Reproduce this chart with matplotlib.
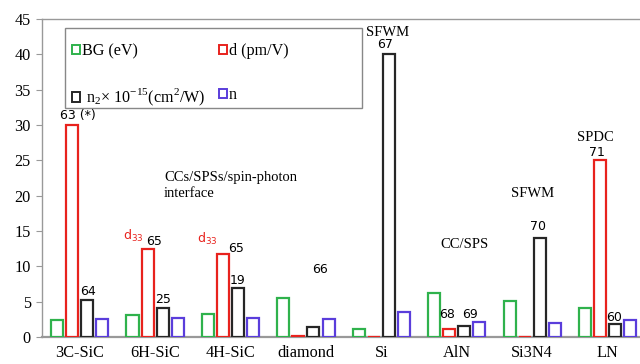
import numpy as np
import matplotlib
matplotlib.use("Agg")
import matplotlib.pyplot as plt
from matplotlib.patches import Patch, Rectangle

plt.rcParams['mathtext.fontset'] = 'custom'
plt.rcParams['mathtext.rm'] = 'Liberation Serif'
plt.rcParams['mathtext.sf'] = 'DejaVu Sans'

# data
materials = ['3C-SiC', '6H-SiC', '4H-SiC', 'diamond', 'Si', 'AlN', 'Si3N4', 'LN']
bg = [2.35, 3.05, 3.25, 5.5, 1.15, 6.2, 5.15, 4.05]
d_coef = [30.0, 12.5, 11.8, 0.2, 0.0, 1.1, 0.0, 25.0]
n2 = [5.3, 4.05, 6.9, 1.37, 40.0, 1.55, 14.0, 1.8]
n_idx = [2.6, 2.7, 2.7, 2.5, 3.55, 2.12, 2.03, 2.4]

series = [bg, d_coef, n2, n_idx]
colors = ['#2fb24c', '#e8221d', '#262626', '#5a3ddb']
labels = ['BG (eV)', 'd (pm/V)',
          r' n$_\mathrm{2}$× 10$^\mathrm{-15}$(cm$^\mathrm{2}$/W)', 'n']

serif = 'Liberation Serif'
sans = 'DejaVu Sans'

fig = plt.figure(figsize=(6.4, 3.64), dpi=100)
ax = fig.add_axes([0.0656, 0.0742, 0.9344, 0.874])

x = np.arange(len(materials))
step = 0.2
width = 0.16
for i, (vals, c) in enumerate(zip(series, colors)):
    ax.bar(x + (i - 1.5) * step, vals, width, facecolor='white',
           edgecolor=c, linewidth=1.6, zorder=3)

ax.set_xlim(-0.5, 7.43)
ax.set_ylim(0, 45)
ax.set_yticks(range(0, 46, 5))
ax.set_xticks(x)
ax.set_xticklabels(materials, fontfamily=serif, fontsize=11.7)
for lab in ax.get_yticklabels():
    lab.set_fontfamily(serif)
    lab.set_fontsize(11.7)
ax.tick_params(axis='x', length=0, pad=6)
ax.tick_params(axis='y', length=4, color='#999999', pad=4)
for side in ['left', 'top']:
    ax.spines[side].set_color('#999999')
    ax.spines[side].set_linewidth(1)
ax.spines['bottom'].set_color('#999999')
ax.spines['bottom'].set_linewidth(1.6)
ax.spines['right'].set_visible(False)


def px(xp, yp):
    return (xp - 42) / 75.4 - 0.5, (337 - yp) / 7.067


def label(xp, yp, s, **kw):
    xd, yd = px(xp, yp)
    kw.setdefault('fontfamily', sans)
    kw.setdefault('fontsize', 9)
    ax.text(xd, yd, s, ha=kw.pop('ha', 'center'), va='center', zorder=6, **kw)


# value annotations
label(78, 116, '63 (*)')
label(88, 292, '64')
label(154, 242, '65')
label(133, 236, r'd$_\mathsf{33}$', color='#e8221d')
label(163, 300, '25')
label(236, 249, '65')
label(207, 239, r'd$_\mathsf{33}$', color='#e8221d')
label(238, 281, '19')
label(320, 270, '66')
label(385, 45, '67')
label(447, 315, '68')
label(470, 315, '69')
label(538, 227, '70')
label(597, 153, '71')
label(614, 318, '60')

# method notes
label(388, 33, 'SFWM', fontfamily=serif, fontsize=10.5)
label(533, 194, 'SFWM', fontfamily=serif, fontsize=10.5)
label(595, 138, 'SPDC', fontfamily=serif, fontsize=10.5)
label(464, 245, 'CC/SPS', fontfamily=serif, fontsize=10.5)
label(164, 186, 'CCs/SPSs/spin-photon\ninterface', fontfamily=serif,
      fontsize=10.5, ha='left', linespacing=1.3)

# legend frame is wider than its entries, so draw it separately
ax.add_patch(Rectangle((0.0385, 0.72), 0.4963, 0.252, transform=ax.transAxes,
                       facecolor='white', edgecolor='#888888', linewidth=1,
                       zorder=5))

# legend is filled column by column, so order entries to read row-wise
order = [0, 2, 1, 3]
handles = [Patch(facecolor='white', edgecolor=colors[k], linewidth=1.4) for k in order]
leg = ax.legend(handles, [labels[k] for k in order], ncol=2, loc='upper left',
                bbox_to_anchor=(0.050, 0.924),
                prop={'family': serif, 'size': 11.6}, frameon=False,
                handlelength=0.5, handleheight=0.5, handletextpad=0.12,
                labelspacing=1.74, borderpad=0, borderaxespad=0,
                columnspacing=0.85)
leg.set_zorder(6)

fig.savefig('out.png', dpi=100)
